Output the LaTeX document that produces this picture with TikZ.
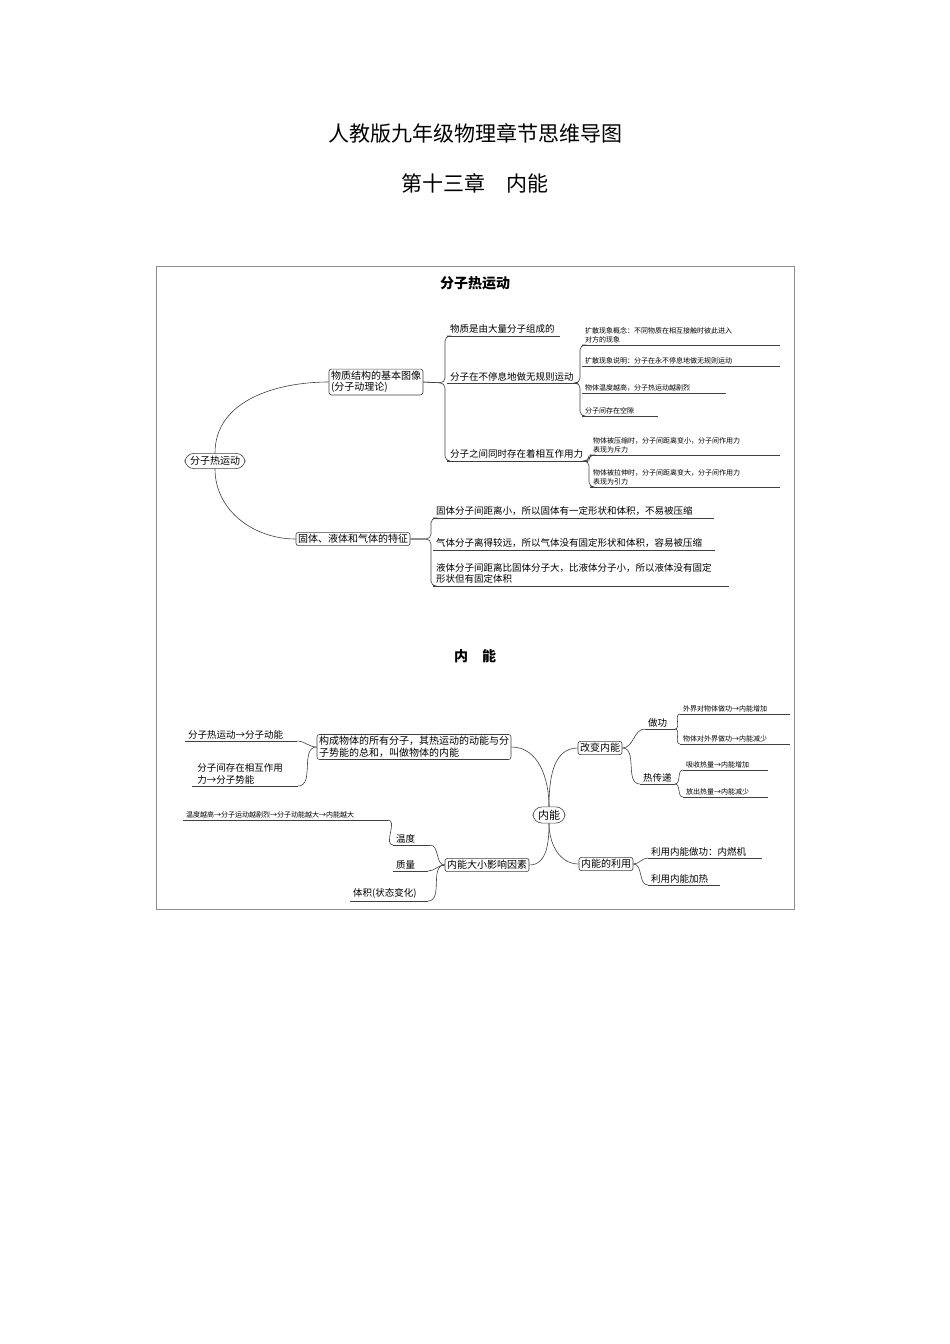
\documentclass[tikz,border=0pt]{standalone}
\usepackage{fontspec}
\setmainfont{Noto Sans CJK SC}
\begin{document}
\begin{tikzpicture}[x=1pt,y=-1pt,
  ln/.style={draw=black!75, line width=0.6pt},
  bx/.style={draw=black!75, line width=0.6pt, rounded corners=2.5pt, inner sep=2pt, align=left, font=\fontsize{10}{11.5}\selectfont},
  rt/.style={draw=black!75, line width=0.6pt, rounded corners=9pt, inner xsep=5pt, inner ysep=3pt},
  s/.style={font=\fontsize{7}{9}\selectfont},
  m/.style={font=\fontsize{9.5}{11.5}\selectfont},
  br/.style={ln, rounded corners=5pt}]
\useasboundingbox (0,0) rectangle (950,1344);
\newcommand\ul[6]{%
  \coordinate (#1a) at (#2,#4); \coordinate (#1b) at (#3,#4);
  \draw[ln] (#1a) -- (#1b);
  \node[anchor=south west, inner sep=1pt, align=left, #6] (#1) at (#2+2,#4-1) {#5};}
\node[font=\fontsize{21}{24}\selectfont] (t1) at (475,133) {人教版九年级物理章节思维导图};
\node[font=\fontsize{21}{24}\selectfont] (t2) at (475,183) {第十三章\quad 内能};
\draw[draw=black!45, line width=0.7pt] (156,266) rectangle (794,909);
% section 1
\node[font=\bfseries\fontsize{14}{16}\selectfont] (h1) at (475,283) {分子热运动};
\node[rt, font=\fontsize{10}{12}\selectfont] (r1) at (215,461) {分子热运动};
\node[bx] (a) at (376,382) {物质结构的基本图像\\(分子动理论)};
\node[bx] (b) at (353,539) {固体、液体和气体的特征};
\draw[ln] (r1.north) to[out=90,in=180] (a.west);
\draw[ln] (r1.south) to[out=-90,in=180] (b.west);
\ul{a1}{447}{560}{336}{物质是由大量分子组成的}{m}
\ul{a2}{447}{578}{383}{分子在不停息地做无规则运动}{m}
\ul{a3}{447}{588}{461}{分子之间同时存在着相互作用力}{m}
\draw[br] (a.east) -- (445,383) |- (a1a);
\draw[br] (a.east) -- (445,383) |- (a3a);
\ul{c1}{582}{780}{345}{扩散现象概念：不同物质在相互接触时彼此进入\\对方的现象}{s}
\ul{c2}{582}{780}{366}{扩散现象说明：分子在永不停息地做无规则运动}{s}
\ul{c3}{582}{726}{393}{物体温度越高，分子热运动越剧烈}{s}
\ul{c4}{582}{658}{416}{分子间存在空隙}{s}
\draw[br] (a2b) -- (580,383) |- (c1a);
\draw[br] (a2b) -- (580,383) |- (c4a);
\ul{d1}{590}{780}{455}{物体被压缩时，分子间距离变小，分子间作用力\\表现为斥力}{s}
\ul{d2}{590}{780}{487}{物体被拉伸时，分子间距离变大，分子间作用力\\表现为引力}{s}
\draw[br] (a3b) -- (589,461) |- (d1a);
\draw[br] (a3b) -- (589,461) |- (d2a);
\ul{e1}{433}{714}{518}{固体分子间距离小，所以固体有一定形状和体积，不易被压缩}{m}
\ul{e2}{433}{715}{550}{气体分子离得较远，所以气体没有固定形状和体积，容易被压缩}{m}
\ul{e3}{433}{729}{586}{液体分子间距离比固体分子大，比液体分子小，所以液体没有固定\\形状但有固定体积}{m}
\draw[br] (b.east) -- (431,539) |- (e1a);
\draw[br] (b.east) -- (431,539) |- (e3a);
% section 2
\node[font=\bfseries\fontsize{14}{16}\selectfont] (h2) at (475,656) {内\quad 能};
\node[rt, font=\fontsize{11}{13}\selectfont] (r2) at (549,815) {内能};
\node[bx] (p) at (414,747) {构成物体的所有分子，其热运动的动能与分\\子势能的总和，叫做物体的内能};
\node[bx] (q) at (600,748) {改变内能};
\node[bx] (u) at (606,864) {内能的利用};
\node[bx] (f) at (487,865) {内能大小影响因素};
\draw[ln] (r2.north) to[out=90,in=0] (p.east);
\draw[ln] (r2.north) to[out=90,in=180] (q.west);
\draw[ln] (r2.south) to[out=-90,in=180] (u.west);
\draw[ln] (r2.south) to[out=-90,in=0] (f.east);
\ul{p1}{185}{297}{741}{分子热运动→分子动能}{m}
\ul{p2}{192}{298}{786}{\ 分子间存在相互作用\\\ 力→分子势能}{m}
\draw[ln] (p.west) to[out=180,in=0] (p1b);
\draw[ln] (p.west) to[out=180,in=0] (p2b);
\ul{q1}{645}{675}{729}{做功}{m}
\ul{q2}{640}{675}{784}{热传递}{m}
\draw[ln] (q.east) to[out=0,in=180] (q1a);
\draw[ln] (q.east) to[out=0,in=180] (q2a);
\ul{g1}{680}{790}{714}{外界对物体做功→内能增加}{s}
\ul{g2}{680}{790}{744}{物体对外界做功→内能减少}{s}
\draw[ln] (q1b) to[out=0,in=180] (g1a);
\draw[ln] (q1b) to[out=0,in=180] (g2a);
\ul{h1x}{683}{768}{770}{吸收热量→内能增加}{s}
\ul{h2x}{683}{768}{797}{放出热量→内能减少}{s}
\draw[ln] (q2b) to[out=0,in=180] (h1xa);
\draw[ln] (q2b) to[out=0,in=180] (h2xa);
\ul{u1}{648}{762}{858}{利用内能做功：内燃机}{m}
\ul{u2}{648}{720}{885}{利用内能加热}{m}
\draw[ln] (u.east) to[out=0,in=180] (u1a);
\draw[ln] (u.east) to[out=0,in=180] (u2a);
\ul{f1}{393}{430}{845}{温度}{m}
\ul{f2}{393}{428}{871}{质量}{m}
\ul{f3}{350}{428}{901}{体积(状态变化)}{m}
\draw[ln] (f.west) to[out=180,in=0] (f1b);
\draw[ln] (f.west) to[out=180,in=0] (f2b);
\draw[ln] (f.west) to[out=180,in=0] (f3b);
\ul{w}{183}{388}{820}{温度越高→分子运动越剧烈→分子动能越大→内能越大}{s}
\draw[ln] (wb) to[out=0,in=180] (f1a);
\end{tikzpicture}
\end{document}
